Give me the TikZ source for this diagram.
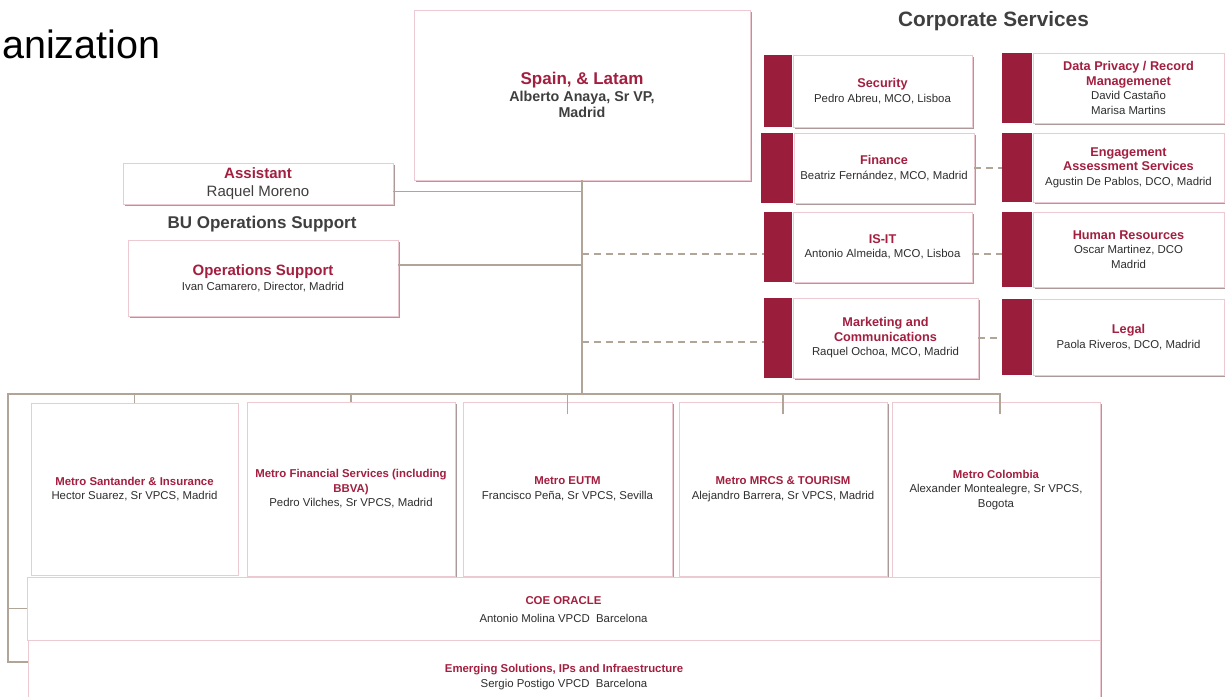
\documentclass[tikz,border=0pt]{standalone}
\usepackage{fontspec}
\setmainfont{Liberation Sans}
\usetikzlibrary{shadows}
\definecolor{titlered}{HTML}{A31F40}
\definecolor{barred}{HTML}{9A1D3B}
\definecolor{namegray}{HTML}{2E2E2E}
\definecolor{headgray}{HTML}{3F3F3F}
\definecolor{linktaupe}{HTML}{B1A598}
\definecolor{boxedge}{HTML}{EDC9D1}
\definecolor{boxshadow}{HTML}{AD9999}
\newcommand{\hd}[2][11.4]{{\fontsize{#1}{#1}\selectfont\bfseries\color{titlered}#2}}
\tikzset{
  flatbox/.style={draw=boxedge, fill=white, line width=.8pt, inner sep=2pt, align=center,
    text=namegray, font=\fontsize{11.4}{14.5}\selectfont},
  orgbox/.style={flatbox, drop shadow={shadow xshift=1.8pt, shadow yshift=-1.8pt, fill=boxshadow, opacity=1}},
  redbar/.style={fill=barred, draw=none, minimum width=28pt, anchor=east, inner sep=0pt},
  link/.style={draw=linktaupe, line width=1.8pt},
  dlink/.style={link, dash pattern=on 7pt off 5pt},
}
\begin{document}
\begin{tikzpicture}[x=1pt,y=-1pt]
            \useasboundingbox (0,0) rectangle (1225,696);
            \clip (0,0) rectangle (1225,696);

            \node[anchor=base west, inner sep=0pt, font=\fontsize{39.5}{46}\selectfont] (pagetitle) at (2,58) {anization};
            \node[anchor=base, inner sep=0pt, text=headgray, font=\fontsize{20.8}{24}\selectfont\bfseries] (corptitle) at (993.5,27) {Corporate Services};
            \node[anchor=base, inner sep=0pt, text=headgray, font=\fontsize{17}{20}\selectfont\bfseries] (butitle) at (262,228) {BU Operations Support};

            % head and staff
            \node[orgbox, minimum width=336pt, minimum height=170pt, text=headgray, font=\fontsize{14.3}{16.5}\selectfont\bfseries] (spain) at (582,95)
                {\hd[17]{Spain, \& Latam}\\ Alberto Anaya, Sr VP,\\ Madrid};
            \node[orgbox, minimum width=270pt, minimum height=41pt, text=headgray, font=\fontsize{15}{18}\selectfont] (asst) at (258,183.5)
                {\hd[15]{Assistant}\\ Raquel Moreno};
            \node[orgbox, minimum width=270pt, minimum height=76pt, font=\fontsize{11.4}{15}\selectfont] (ops) at (263,278)
                {\hd[15]{Operations Support}\\ Ivan Camarero, Director, Madrid};

            % corporate services
            \node[orgbox, minimum width=179pt, minimum height=72pt] (sec) at (882.5,91) {\hd[12.7]{Security}\\ Pedro Abreu, MCO, Lisboa};
            \node[orgbox, minimum width=180pt, minimum height=70pt] (fin) at (884,168) {\hd[12.7]{Finance}\\ Beatriz Fernández, MCO, Madrid};
            \node[orgbox, minimum width=179pt, minimum height=70pt] (isit) at (882.5,247) {\hd[12.7]{IS-IT}\\ Antonio Almeida, MCO, Lisboa};
            \node[orgbox, minimum width=185pt, minimum height=80pt] (mkt) at (885.5,338) {\hd[12.7]{Marketing and}\\ \hd[12.7]{Communications}\\ Raquel Ochoa, MCO, Madrid};
            \node[orgbox, minimum width=191pt, minimum height=70pt] (dpr) at (1128.5,88) {\hd[12.7]{Data Privacy / Record}\\ \hd[12.7]{Managemenet}\\ David Castaño\\ Marisa Martins};
            \node[orgbox, minimum width=191pt, minimum height=69pt] (eng) at (1128.5,167.5) {\hd[12.7]{Engagement}\\ \hd[12.7]{Assessment Services}\\ Agustin De Pablos, DCO, Madrid};
            \node[orgbox, minimum width=191pt, minimum height=75pt] (hr) at (1128.5,249.5) {\hd[12.7]{Human Resources}\\ Oscar Martinez, DCO\\ Madrid};
            \node[orgbox, minimum width=191pt, minimum height=76pt] (legal) at (1128.5,337) {\hd[12.7]{Legal}\\ Paola Riveros, DCO, Madrid};
            \foreach \b/\h/\w in {sec/72/28, fin/70/32, isit/70/28, mkt/80/28, dpr/70/30, eng/69/30, hr/75/30, legal/76/30}
                \node[redbar, minimum height=\h pt, minimum width=\w pt] (\b-bar) at (\b.west) {};

            % business units
            \node[flatbox, minimum width=207pt, minimum height=172pt] (santa) at (134.5,489) {\hd{Metro Santander \& Insurance}\\ Hector Suarez, Sr VPCS, Madrid};
            \node[orgbox, minimum width=208pt, minimum height=174pt] (finsvc) at (351,489) {\hd{Metro Financial Services (including}\\ \hd{BBVA)}\\ Pedro Vilches, Sr VPCS, Madrid};
            \node[orgbox, minimum width=209pt, minimum height=174pt] (eutm) at (567.5,489) {\hd{Metro EUTM}\\ Francisco Peña, Sr VPCS, Sevilla};
            \node[orgbox, minimum width=208pt, minimum height=174pt] (mrcs) at (783,489) {\hd{Metro MRCS \& TOURISM}\\ Alejandro Barrera, Sr VPCS, Madrid};
            \node[orgbox, minimum width=208pt, minimum height=176pt] (colombia) at (996,490) {\hd{Metro Colombia}\\ Alexander Montealegre, Sr VPCS,\\ Bogota};
            \node[orgbox, minimum width=1073pt, minimum height=63pt] (coe) at (563.5,608.5) {\mbox{}\\[-4pt]\hd{COE ORACLE}\\[4pt] Antonio Molina VPCD\ \ Barcelona};
            \node[orgbox, minimum width=1072pt, minimum height=74pt] (emerg) at (564,677) {\hd{Emerging Solutions, IPs and Infraestructure}\\ Sergio Postigo VPCD\ \ Barcelona};

            % connectors
            \coordinate (busL) at (8,394);
            \coordinate (busR) at (1000,394);
            \coordinate (busend) at (8,662);
            \draw[link] (spain.south) -- (spain.south |- busL);
            \draw[link] ([yshift=-8pt]asst.east) -- ([yshift=-8pt]asst.east -| spain.south);
            \draw[link] ([yshift=13pt]ops.east) -- ([yshift=13pt]ops.east -| spain.south);
            \draw[link] (busR |- 0,414) -- (busR) -- (busL) -- (busend) -- (busend -| emerg.west);
            \draw[link] (coe.west -| busL) -- (coe.west);
            \foreach \u in {santa,finsvc}
                \draw[link] (\u.north |- busL) -- (\u.north);
            \foreach \u in {eutm,mrcs}
                \draw[link] (\u.north |- busL) -- ([yshift=-12pt]\u.north);

            \draw[dlink] ([yshift=-7pt]isit-bar.west -| spain.south) -- ([yshift=-7pt]isit-bar.west);
            \draw[dlink] ([yshift=-4pt]mkt-bar.west -| spain.south) -- ([yshift=-4pt]mkt-bar.west);
            \draw[dlink] (fin.east) -- (fin.east -| eng-bar.west);
            \draw[dlink] ([yshift=-7pt]isit.east) -- ([yshift=-7pt]isit.east -| hr-bar.west);
            \draw[dlink] (mkt.east) -- (mkt.east -| legal-bar.west);
        \end{tikzpicture}
\end{document}
